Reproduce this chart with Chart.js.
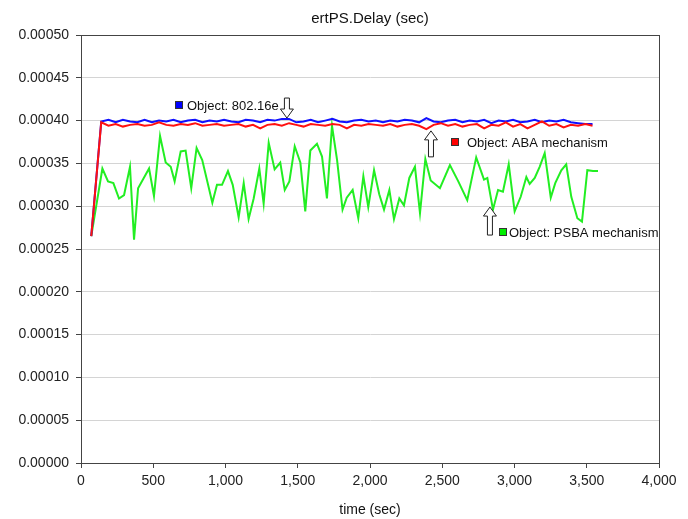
<!DOCTYPE html>
<html>
<head>
<meta charset="utf-8">
<script src="https://cdn.jsdelivr.net/npm/chart.js@4.4.1/dist/chart.umd.min.js"></script>
<style>
  html, body { margin: 0; padding: 0; background: #fff; }
</style>
</head>
<body>
<canvas id="chart" width="688" height="519"></canvas>
<script>
// time stamps (sec) shared by the 802.16e and ABA series
const timeMain = [
  71, 140, 190, 240, 290, 340, 390, 440, 490, 540,
  590, 640, 690, 740, 790, 840, 890, 940, 990, 1040,
  1090, 1140, 1190, 1240, 1290, 1340, 1390, 1440, 1490, 1540,
  1590, 1640, 1690, 1740, 1790, 1840, 1890, 1940, 1990, 2040,
  2090, 2140, 2190, 2240, 2290, 2340, 2390, 2440, 2490, 2540,
  2590, 2640, 2690, 2740, 2790, 2840, 2890, 2940, 2990, 3040,
  3090, 3140, 3190, 3240, 3290, 3340, 3390, 3440, 3490, 3540
];

const delay80216e = [
  0.000265, 0.000399, 0.000401, 0.000398, 0.000401, 0.000399, 0.000398, 0.000401, 0.000398, 0.000400,
  0.000399, 0.000401, 0.000398, 0.000400, 0.000401, 0.000398, 0.000400, 0.000399, 0.000401, 0.000399,
  0.000398, 0.000401, 0.000400, 0.000398, 0.000401, 0.000400, 0.000402, 0.000402, 0.000398, 0.000399,
  0.000401, 0.000398, 0.000400, 0.000402, 0.000399, 0.000398, 0.000400, 0.000401, 0.000399, 0.000400,
  0.000398, 0.000400, 0.000399, 0.000401, 0.000400, 0.000398, 0.000403, 0.000399, 0.000398, 0.000400,
  0.000401, 0.000398, 0.000400, 0.000399, 0.000401, 0.000397, 0.000400, 0.000399, 0.000401, 0.000398,
  0.000399, 0.000401, 0.000398, 0.000400, 0.000399, 0.000401, 0.000398, 0.000397, 0.000396, 0.000396
];

const delayABA = [
  0.000265, 0.000398, 0.000394, 0.000396, 0.000393, 0.000395, 0.000396, 0.000394, 0.000395, 0.000398,
  0.000395, 0.000394, 0.000396, 0.000395, 0.000397, 0.000394, 0.000395, 0.000396, 0.000394, 0.000395,
  0.000396, 0.000393, 0.000395, 0.000391, 0.000395, 0.000396, 0.000394, 0.000397, 0.000395, 0.000393,
  0.000396, 0.000395, 0.000394, 0.000396, 0.000395, 0.000391, 0.000395, 0.000394, 0.000396, 0.000395,
  0.000394, 0.000396, 0.000393, 0.000395, 0.000396, 0.000394, 0.000390, 0.000395, 0.000397, 0.000394,
  0.000396, 0.000393, 0.000395, 0.000396, 0.000391, 0.000395, 0.000394, 0.000398, 0.000393, 0.000396,
  0.000391, 0.000395, 0.000399, 0.000394, 0.000396, 0.000392, 0.000395, 0.000394, 0.000396, 0.000394
];

// PSBA series has its own time stamps
const timePSBA = [
  71, 148, 187, 224, 263, 298, 339, 367, 395, 471,
  505, 547, 586, 621, 648, 690, 724, 763, 800, 839,
  909, 941, 976, 1017, 1050, 1091, 1126, 1160, 1195, 1234,
  1264, 1299, 1340, 1379, 1410, 1442, 1479, 1518, 1552, 1587,
  1633, 1668, 1702, 1737, 1772, 1810, 1839, 1880, 1919, 1954,
  1988, 2028, 2064, 2097, 2134, 2166, 2203, 2235, 2272, 2311,
  2346, 2383, 2420, 2484, 2553, 2611, 2673, 2735, 2789, 2812,
  2851, 2886, 2920, 2960, 3001, 3043, 3082, 3105, 3140, 3174,
  3209, 3251, 3282, 3324, 3358, 3393, 3435, 3467, 3504, 3543,
  3578
];

const delayPSBA = [
  0.000265, 0.000344, 0.000329, 0.000327, 0.000309, 0.000313, 0.000346, 0.000261, 0.000321, 0.000344,
  0.000312, 0.000382, 0.000351, 0.000346, 0.000329, 0.000364, 0.000365, 0.000321, 0.000368, 0.000354,
  0.000304, 0.000325, 0.000325, 0.000341, 0.000325, 0.000287, 0.000327, 0.000285, 0.000309, 0.000344,
  0.000303, 0.000374, 0.000343, 0.000351, 0.000319, 0.000329, 0.000370, 0.000351, 0.000294, 0.000365,
  0.000373, 0.000358, 0.000309, 0.000394, 0.000354, 0.000296, 0.000310, 0.000319, 0.000286, 0.000335,
  0.000299, 0.000342, 0.000314, 0.000296, 0.000319, 0.000285, 0.000309, 0.000301, 0.000333, 0.000346,
  0.000292, 0.000355, 0.000330, 0.000321, 0.000348, 0.000329, 0.000307, 0.000357, 0.000331, 0.000333,
  0.000296, 0.000319, 0.000317, 0.000349, 0.000294, 0.000311, 0.000334, 0.000326, 0.000333, 0.000346,
  0.000362, 0.000310, 0.000327, 0.000342, 0.000349, 0.000311, 0.000286, 0.000282, 0.000342, 0.000341,
  0.000341
];

const FONT = '"Liberation Sans", Arial, sans-serif';

// labels with their hollow arrows, anchored in data units
const notes = [
  { text: 'Object: 802.16e', color: '#0000ff', boxX: 650, boxY: 0.000418, gap: 12,
    arrowX: 1425, arrowY: 0.000403, dir: 'down', len: 20 },
  { text: 'Object: ABA mechanism', color: '#ff0000', boxX: 2560, boxY: 0.000375, gap: 16,
    arrowX: 2422, arrowY: 0.000388, dir: 'up', len: 26 },
  { text: 'Object: PSBA mechanism', color: '#00ee00', boxX: 2893, boxY: 0.000270, gap: 10,
    arrowX: 2830, arrowY: 0.000299, dir: 'up', len: 28 }
];

function toPoints(xs, ys) {
  return xs.map((t, i) => ({ x: t, y: ys[i] }));
}

function drawArrow(ctx, cx, ty, dir, len) {
  const s = dir === 'up' ? 1 : -1;
  const head = 9, hw = 6.5, sw = 2.5;
  ctx.beginPath();
  ctx.moveTo(cx, ty);
  ctx.lineTo(cx + hw, ty + s * head);
  ctx.lineTo(cx + sw, ty + s * head);
  ctx.lineTo(cx + sw, ty + s * len);
  ctx.lineTo(cx - sw, ty + s * len);
  ctx.lineTo(cx - sw, ty + s * head);
  ctx.lineTo(cx - hw, ty + s * head);
  ctx.closePath();
  ctx.fillStyle = '#fff';
  ctx.fill();
  ctx.strokeStyle = '#222';
  ctx.lineWidth = 1;
  ctx.stroke();
}

const notesPlugin = {
  id: 'notes',
  afterDatasetsDraw(chart) {
    const { ctx, chartArea: a, scales: { x, y } } = chart;
    ctx.save();
    ctx.strokeStyle = '#444';
    ctx.lineWidth = 1;
    ctx.strokeRect(Math.round(a.left) + 0.5, Math.round(a.top) + 0.5,
      Math.round(a.right - a.left), Math.round(a.bottom - a.top));

    notes.forEach(n => {
      drawArrow(ctx, x.getPixelForValue(n.arrowX), y.getPixelForValue(n.arrowY), n.dir, n.len);
      const sx = Math.round(x.getPixelForValue(n.boxX));
      const sy = Math.round(y.getPixelForValue(n.boxY));
      ctx.fillStyle = n.color;
      ctx.fillRect(sx, sy - 4, 8, 8);
      ctx.strokeStyle = '#333';
      ctx.strokeRect(sx + 0.5, sy - 3.5, 7, 7);
      ctx.fillStyle = '#111';
      ctx.font = '13px ' + FONT;
      ctx.textBaseline = 'middle';
      ctx.textAlign = 'left';
      ctx.fillText(n.text, sx + n.gap, sy + 1);
    });
    ctx.restore();
  }
};

const ctx = document.getElementById('chart').getContext('2d');

new Chart(ctx, {
  type: 'line',
  data: {
    datasets: [
      {
        label: 'ABA mechanism',
        data: toPoints(timeMain, delayABA),
        borderColor: '#ff1010',
        borderWidth: 2,
        pointRadius: 0,
        tension: 0,
        fill: false,
      },
      {
        label: '802.16e',
        data: toPoints(timeMain, delay80216e),
        borderColor: '#1010ff',
        borderWidth: 2,
        pointRadius: 0,
        tension: 0,
        fill: false,
      },
      {
        label: 'PSBA mechanism',
        data: toPoints(timePSBA, delayPSBA),
        borderColor: '#22ee22',
        borderWidth: 2,
        pointRadius: 0,
        tension: 0,
        fill: false,
      }
    ],
  },
  options: {
    responsive: false,
    animation: false,
    layout: {
      padding: { left: 0, right: 29, top: 0, bottom: 0 },
    },
    plugins: {
      legend: { display: false },
      tooltip: { enabled: false },
      title: {
        display: true,
        text: 'ertPS.Delay (sec)',
        fullSize: false,
        color: '#111',
        font: { size: 15, family: FONT, weight: 'normal' },
        padding: { top: 10, bottom: 7 },
      },
    },
    scales: {
      x: {
        type: 'linear',
        min: 0,
        max: 4000,
        ticks: {
          stepSize: 500,
          color: '#222',
          padding: 5,
          maxRotation: 0,
          font: { size: 14, family: FONT },
          callback: function(value) {
            return Number(value).toLocaleString('en-US');
          }
        },
        grid: {
          drawOnChartArea: false,
          tickLength: 5,
          tickColor: '#444',
        },
        border: { color: '#444' },
        title: {
          display: true,
          text: 'time (sec)',
          color: '#111',
          font: { size: 14, family: FONT },
          padding: { top: 0, bottom: 0 },
        },
        afterFit: function(scale) {
          scale.height = 56;
          scale.paddingLeft = 0;
          scale.paddingRight = 0;
        },
      },
      y: {
        min: 0,
        max: 0.0005,
        ticks: {
          stepSize: 0.00005,
          color: '#222',
          padding: 7,
          font: { size: 14, family: FONT },
          callback: function(value) {
            return Number(value).toFixed(5);
          }
        },
        grid: {
          color: '#d4d4d4',
          tickLength: 5,
          tickColor: '#444',
        },
        border: { color: '#444' },
        afterFit: function(scale) {
          scale.width = 81;
          scale.paddingTop = 0;
          scale.paddingBottom = 0;
        },
      },
    },
  },
  plugins: [notesPlugin],
});
</script>
</body>
</html>
